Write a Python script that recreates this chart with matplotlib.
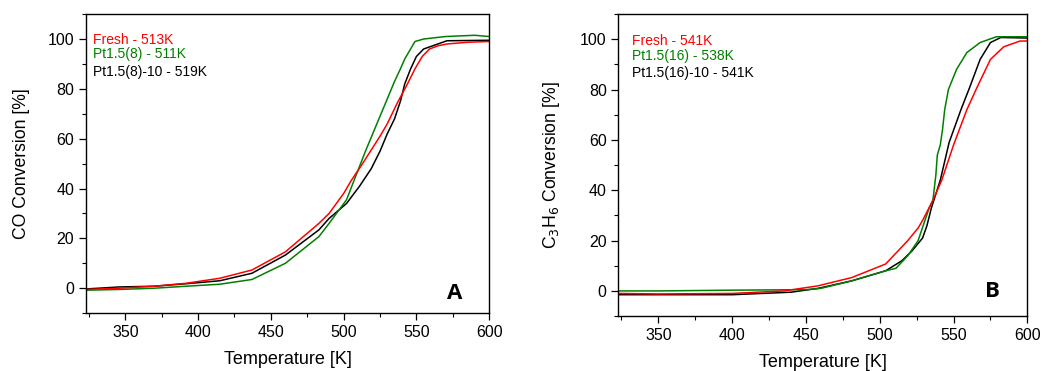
import matplotlib
matplotlib.use("Agg")
import matplotlib.pyplot as plt
from matplotlib.ticker import MultipleLocator

plt.rcParams['font.family'] = ['Liberation Sans', 'DejaVu Sans']

# ---- Panel A: CO conversion ----
tA_red = [323, 346, 370, 392, 415, 437, 460, 483, 490, 500, 505, 513, 525, 530, 537, 543, 549, 554, 559, 565, 571, 585, 600]
yA_red = [-0.5, 0, 0.8, 2, 4, 7.3, 14.6, 26, 30, 38, 43, 50, 61, 66, 74.5, 81, 88, 93, 96, 97.3, 98, 98.7, 99]

tA_green = [323, 346, 370, 392, 415, 437, 460, 483, 490, 502, 509, 515, 520, 525, 530, 535, 539, 542, 546, 549, 555, 570, 590, 600]
yA_green = [-0.8, -0.5, 0, 0.8, 1.6, 3.5, 10, 20.7, 26, 35.5, 46, 55, 62, 69, 76, 83, 88, 92, 96, 99, 100, 101, 101.5, 101]

tA_black = [323, 346, 370, 392, 415, 437, 460, 483, 490, 502, 511, 519, 525, 530, 535, 539, 542, 546, 550, 555, 571, 600]
yA_black = [-0.3, 0.5, 0.8, 1.8, 3, 6, 13.3, 23.4, 28, 34, 41, 48, 55, 62, 68, 75, 82, 88, 93, 96, 99.3, 99.5]

# ---- Panel B: C3H6 conversion ----
tB_red = [323, 350, 400, 435, 458, 481, 504, 519, 526, 529, 536, 542, 550, 559, 566, 575, 584, 595, 600]
yB_red = [-1, -1.2, -1, 0, 2, 5.3, 10.7, 20, 25, 28, 36, 44, 58, 72, 81, 92, 97, 99.3, 99.3]

tB_green = [323, 350, 400, 450, 460, 481, 504, 511, 519, 526, 533.5, 536, 538, 539, 541, 542.5, 544, 546.5, 552, 559, 568, 579, 600]
yB_green = [0, 0, 0.3, 0.5, 1, 4, 8, 9, 14, 20, 33, 36, 46, 54, 58, 64, 72, 80, 88, 94.7, 98.7, 101, 101]

tB_black = [323, 350, 400, 440, 458, 481, 504, 515, 522, 529, 532, 535, 541, 547, 555, 561, 568, 575, 582, 600]
yB_black = [-1.5, -1.5, -1.5, -0.5, 1, 4, 8, 12, 16, 21, 26, 33, 44, 59, 72, 81, 92, 98.7, 100.7, 100.5]

labels_A = ["Fresh - 513K", "Pt1.5(8) - 511K", "Pt1.5(8)-10 - 519K"]
labels_B = ["Fresh - 541K", "Pt1.5(16) - 538K", "Pt1.5(16)-10 - 541K"]
colors = ["#ff0000", "#008000", "#000000"]

fig = plt.figure(figsize=(10.43, 3.71), dpi=100)
axA = fig.add_axes([0.0825, 0.156, 0.3865, 0.806])
axB = fig.add_axes([0.593, 0.148, 0.392, 0.814])

def style(ax):
    ax.set_xlim(323, 600)
    ax.set_ylim(-10, 110)
    ax.xaxis.set_major_locator(MultipleLocator(50))
    ax.xaxis.set_minor_locator(MultipleLocator(25))
    ax.yaxis.set_major_locator(MultipleLocator(20))
    ax.yaxis.set_minor_locator(MultipleLocator(10))
    ax.tick_params(which='both', direction='out', top=False, right=False, labelsize=11.5)
    ax.tick_params(which='major', length=5, width=0.9)
    ax.tick_params(which='minor', length=3, width=0.8)
    for s in ax.spines.values():
        s.set_linewidth(1.0)
    ax.set_xlabel("Temperature [K]", fontsize=13, labelpad=8)

for ax, data, labels, panel, ylabel, ys, py in [
    (axA, [(tA_red, yA_red), (tA_green, yA_green), (tA_black, yA_black)], labels_A, "A",
     "CO Conversion [%]", [0.913, 0.866, 0.806], 0.067),
    (axB, [(tB_red, yB_red), (tB_green, yB_green), (tB_black, yB_black)], labels_B, "B",
     r"C$_3$H$_6$ Conversion [%]", [0.91, 0.862, 0.804], 0.083),
]:
    for (t, y), c in zip(data[::-1], colors[::-1]):
        ax.plot(t, y, color=c, lw=1.1)
    style(ax)
    ax.set_ylabel(ylabel, fontsize=12.7, labelpad=13)
    x0 = 0.017 if panel == "A" else 0.034
    for lab, c, yy in zip(labels, colors, ys):
        ax.text(x0, yy, lab, color=c, fontsize=10, transform=ax.transAxes, va='center', ha='left')
    ax.text(0.915, py, panel, fontsize=16, fontweight='bold', transform=ax.transAxes,
            ha='center', va='center', family=['Open Sans', 'DejaVu Sans'])

fig.savefig("out.png", dpi=100)
